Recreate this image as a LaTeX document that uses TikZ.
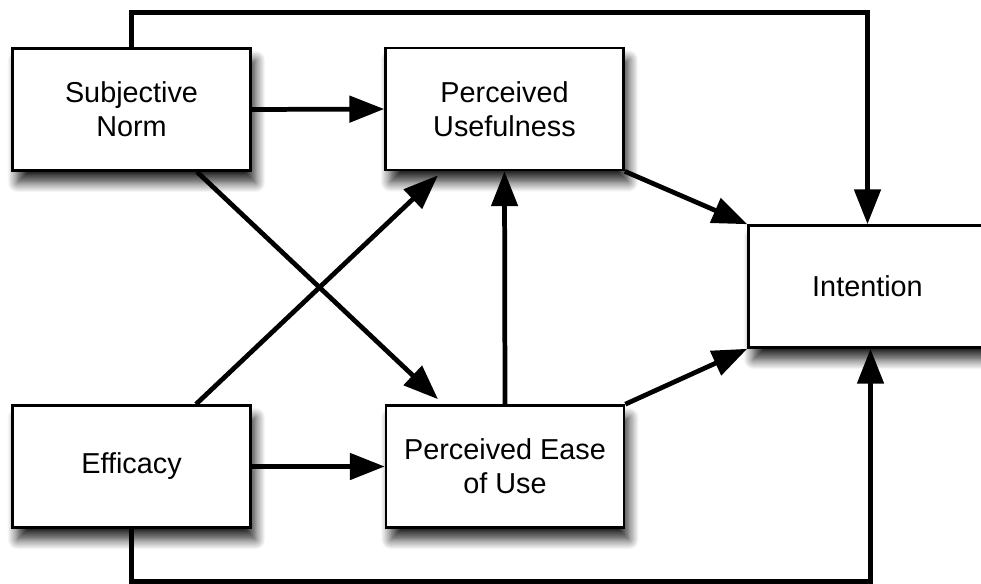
\documentclass[tikz,border=0pt]{standalone}
\usepackage{fontspec}
\setmainfont{Liberation Sans}
\usetikzlibrary{arrows.meta,shadows.blur,calc}

\begin{document}
\begin{tikzpicture}[x=0.02cm,y=-0.02cm,
  construct/.style={draw=black, line width=1.5pt, fill=white,
    minimum width=4.76cm, minimum height=2.44cm, inner sep=0pt,
    align=center, font=\fontsize{16.4}{19.4}\selectfont,
    blur shadow={shadow xshift=0.1cm, shadow yshift=-0.24cm,
      shadow blur radius=0.2cm, shadow blur steps=12,
      shadow opacity=85}},
  link/.style={line width=2.7pt,
    -{Triangle[length=19.8pt,width=14.8pt]}}
]
\useasboundingbox (0,0) rectangle (981,583);

% constructs of the model
\node[construct] (SN)   at (131.5,109.5) {Subjective\\Norm};
\node[construct] (PU)   at (504.5,109)   {Perceived\\Usefulness};
\node[construct] (Eff)  at (131.5,466.5) {Efficacy};
\node[construct] (PEOU) at (505,466.5)   {Perceived Ease\\of Use};
\node[construct] (Int)  at (867.5,286.5) {Intention};

% direct paths
\draw[link] (SN.east) -- (PU.west);
\draw[link] (Eff.east) -- (PEOU.west);
\draw[link] (PEOU.north) -- (PU.south);
\draw[link] (PU.south east) -- (Int.north west);
\draw[link] (PEOU.north east) -- (Int.south west);

% crossing paths
\draw[link] ($(SN.south)+(65.5,0)$) -- ($(PEOU.north)+(-67,-5)$);
\draw[link] ($(Eff.north)+(64.5,0)$) -- ($(PU.south)+(-66.5,4)$);

% paths routed around the model to Intention
\draw[link, line join=miter] (SN.north) -- ++(0,-35) -| (Int.north);
\draw[link, line join=miter] (Eff.south) -- ++(0,52.5) -| ($(Int.south)+(3,0)$);
\end{tikzpicture}
\end{document}
